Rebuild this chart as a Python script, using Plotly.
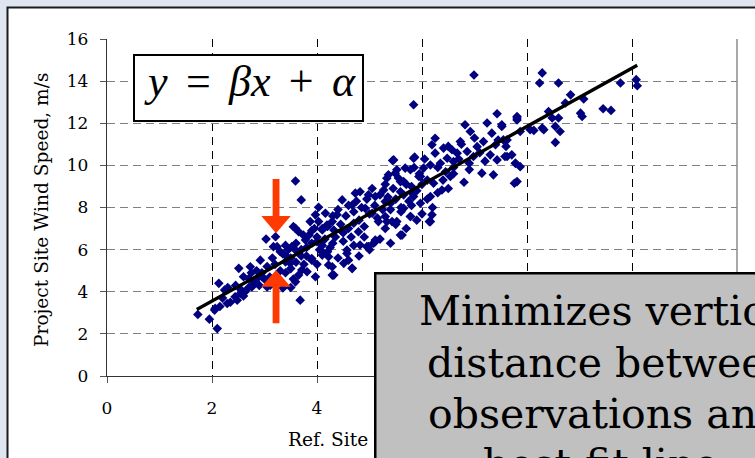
import plotly.graph_objects as go

# ---------------- data ----------------
obs_x = [
    1.73, 1.95, 2.10, 2.13, 2.24, 2.05, 2.29, 2.44, 2.51, 2.73, 2.92, 3.03, 3.21, 3.17, 2.60, 2.76,
    2.86, 2.63, 3.05, 3.68, 3.40, 3.52, 3.59, 3.65, 3.81, 3.90, 4.10, 4.22, 4.29, 4.00, 4.03, 4.19,
    3.74, 3.59, 3.30, 3.11, 2.95, 2.06, 2.15, 3.35, 3.50,
    3.59, 3.70, 5.44, 5.86, 4.03, 4.16, 3.97, 4.29, 4.48, 4.73, 4.82, 4.98, 5.11, 5.27, 5.36, 5.49,
    5.59, 5.68, 4.92, 5.05, 5.30, 5.43, 5.62, 5.78, 5.11, 4.98, 4.82, 4.57, 4.67, 4.51, 4.29, 4.22,
    4.10, 3.90, 3.78, 3.65, 3.59, 3.49, 3.71, 4.32, 4.48, 4.38, 4.70, 4.79, 5.17, 5.30, 4.67, 3.87,
    4.10, 5.65, 5.81, 5.94,
    5.84, 7.43, 7.81, 6.82, 6.92, 7.24, 7.33, 7.52, 6.73, 6.25, 6.19, 6.41, 6.57, 6.67, 6.86, 7.05,
    7.17, 7.40, 7.62, 6.25, 6.48, 6.60, 6.98, 7.30, 7.43, 7.62, 7.78, 7.14, 7.36, 7.81, 5.84, 5.46,
    6.03, 6.16, 6.54, 6.38, 6.16, 6.22, 5.97, 5.78, 5.65, 5.52, 5.33, 5.59, 5.84, 5.78, 6.19, 6.16,
    5.40, 5.33, 5.52, 5.97,
    8.29, 8.24, 8.60, 9.78, 10.08, 10.10, 8.83, 8.73, 9.08, 8.41, 8.48, 8.60, 9.02, 9.05, 9.45, 9.60,
    7.81, 7.81, 7.52, 8.06, 8.13, 8.29, 8.32, 8.54, 8.63, 8.54, 7.87, 7.55, 7.58, 7.71, 7.78, 7.87,
    7.76, 6.99,
    2.48, 2.54, 2.70, 2.79, 3.24, 3.43, 3.55, 3.97, 4.32, 4.67, 4.57, 4.95, 5.11, 5.08, 5.59, 6.14,
    3.30, 3.40, 3.50, 3.60, 3.70, 3.80, 3.85, 3.90, 3.95, 4.00, 4.05, 4.10, 4.15, 4.20, 4.25, 4.30,
    4.35, 4.40, 4.45, 4.50, 4.55, 4.60, 4.60, 4.65, 4.70, 4.75, 4.80, 4.85, 4.90, 4.95, 5.00, 5.05,
    5.10, 5.15, 5.20, 5.25, 5.30, 5.35, 5.40, 5.45, 5.50, 5.55, 5.60, 5.65, 5.70, 5.75, 5.80, 5.85,
    5.90, 5.95, 6.00, 6.05, 6.10, 6.30, 6.35, 6.45, 6.50, 6.60, 6.70, 6.75, 6.90, 7.00, 7.10, 7.20,
    7.45, 7.60,
    2.20, 2.30, 2.35, 2.45, 2.55, 2.60, 2.70, 2.75, 2.80, 2.85, 2.90, 2.95, 3.00, 3.05, 3.10, 3.15,
    3.20, 3.25, 3.30, 3.35, 3.40, 3.45, 3.50, 3.55, 3.60, 3.70, 3.75, 3.80, 3.90, 4.00, 4.10, 4.20,
    4.30, 4.40, 4.50, 4.60, 4.70, 4.80, 4.90, 5.00, 5.20, 5.30, 5.40, 5.50, 5.60, 5.70, 5.80, 5.90,
    6.00, 6.10, 6.20, 6.30, 6.40, 6.50, 6.60, 6.80, 6.90,
]
obs_y = [
    2.92, 2.70, 2.25, 4.40, 4.08, 3.13, 3.44, 3.76, 5.11, 5.19, 5.50, 6.50, 6.61, 6.14, 4.71, 4.23,
    4.63, 4.00, 4.23, 3.60, 5.42, 6.14, 7.01, 4.79, 4.95, 5.58, 5.74, 5.27, 4.79, 6.38, 7.33, 7.17,
    6.69, 4.47, 4.47, 4.31, 4.71, 3.21, 3.30, 4.18, 4.20,
    9.26, 8.36, 10.23, 10.39, 8.01, 7.73, 7.65, 7.33, 8.36, 8.68, 8.75, 8.60, 8.52, 8.83, 9.55, 9.63,
    9.23, 9.87, 7.96, 7.73, 7.57, 7.33, 6.69, 7.57, 6.46, 6.14, 6.22, 5.98, 5.11, 5.35, 5.19, 5.66,
    5.90, 5.50, 6.46, 6.85, 5.98, 5.35, 5.03, 6.93, 6.85, 7.65, 7.25, 6.85, 7.33, 8.28, 8.12, 7.33,
    6.93, 7.96, 8.68, 9.47,
    12.88, 12.45, 12.25, 11.93, 11.61, 12.01, 11.53, 11.85, 11.13, 11.29, 10.98, 10.82, 10.74, 10.58, 10.66, 10.89,
    11.13, 10.98, 11.21, 10.58, 10.34, 10.18, 10.42, 10.50, 10.26, 10.42, 10.10, 9.63, 9.55, 9.23, 10.34, 10.26,
    9.87, 10.02, 9.47, 8.83, 8.52, 9.15, 9.47, 9.79, 9.23, 9.79, 9.39, 8.75, 8.52, 7.57, 7.65, 7.33,
    8.20, 7.33, 7.33, 8.20,
    14.39, 13.91, 13.91, 13.91, 14.07, 13.78, 13.35, 12.96, 13.15, 12.56, 12.25, 12.25, 12.48, 12.32, 12.69, 12.61,
    12.32, 12.16, 11.93, 11.69, 11.66, 11.77, 11.69, 11.85, 11.61, 11.09, 11.61, 11.21, 10.42, 10.50, 10.10, 9.94,
    9.15, 14.29,
    3.60, 3.92, 4.63, 4.40, 6.14, 5.66, 7.09, 4.71, 4.79, 5.11, 5.82, 6.14, 6.38, 6.31, 6.69, 7.33,
    5.90, 6.20, 5.60, 6.30, 5.70, 6.10, 6.70, 6.30, 7.00, 6.60, 6.00, 7.00, 6.50, 7.10, 6.10, 7.60,
    6.60, 7.90, 7.20, 6.40, 7.60, 8.10, 7.00, 6.60, 7.80, 8.30, 7.40, 8.00, 7.10, 8.40, 7.70, 8.90,
    8.10, 7.50, 8.60, 7.90, 9.10, 8.50, 7.90, 8.90, 8.40, 9.40, 8.00, 8.60, 9.10, 8.30, 9.00, 9.90,
    8.80, 9.60, 9.10, 10.30, 9.30, 9.90, 10.10, 9.70, 10.90, 9.90, 10.30, 11.00, 10.10, 11.30, 10.60, 10.20,
    11.20, 10.90,
    3.70, 4.20, 3.50, 4.30, 4.10, 3.80, 4.20, 4.90, 4.50, 5.00, 4.30, 4.90, 4.60, 5.20, 4.70, 5.60,
    5.30, 4.50, 5.00, 5.80, 4.90, 6.00, 5.10, 4.60, 5.40, 6.00, 5.30, 5.70, 6.90, 5.30, 6.20, 5.90,
    6.30, 5.60, 6.80, 5.50, 6.20, 5.70, 6.60, 6.00, 6.50, 7.00, 6.30, 7.20, 7.80, 7.00, 8.10, 7.40,
    7.70, 8.40, 8.00, 8.70, 9.30, 8.90, 9.60, 9.20, 9.80,
]

# best-fit line end points
fit_x = [1.71, 10.10]
fit_y = [3.16, 14.75]

x_ticks = [0, 2, 4, 6, 8, 10]
x_tick_labels = ["0", "2", "4", "", "", ""]   # 6..10 lie under the grey call-out box
y_ticks = [0, 2, 4, 6, 8, 10, 12, 14, 16]

GAP = "&nbsp;&#8202;&#8202;"
equation_text = f"<i>y</i>{GAP}={GAP}<i>β</i><i>x</i>{GAP}+{GAP}<i>α</i>"
box_lines = ["Minimizes vertical", "distance between", "observations and", "best-fit line"]
x_title = "Ref. Site Wind Speed, m/s"
y_title = "Project Site Wind Speed, m/s"

# arrow geometry (data units)
arrow_x = 3.22
down_arrow = dict(top=9.35, base=7.60, tip=6.78)
up_arrow = dict(bottom=2.50, base=4.24, tip=5.03)
shaft_hw = 0.065
head_hw = 0.28

# ---------------- layout geometry ----------------
W, H = 755, 458
ML, MR, MT, MB = 107, 18, 39, 82
PW, PH = W - ML - MR, H - MT - MB


def px_x(p):
    return (p - ML) / PW


def px_y(p):
    return (H - MB - p) / PH


SERIF = "DejaVu Serif"
ARROW_COLOR = "#ff3a00"

fig = go.Figure()
fig.add_trace(go.Scatter(
    x=obs_x, y=obs_y, mode="markers",
    marker=dict(symbol="diamond", size=7.4, color="#000080", line=dict(width=0)),
    showlegend=False, hoverinfo="skip",
))
fig.add_trace(go.Scatter(
    x=fit_x, y=fit_y, mode="lines",
    line=dict(color="black", width=3.4),
    showlegend=False, hoverinfo="skip",
))


def down_path(a):
    x = arrow_x
    return (f"M {x-shaft_hw},{a['top']} L {x+shaft_hw},{a['top']} L {x+shaft_hw},{a['base']} "
            f"L {x+head_hw},{a['base']} L {x},{a['tip']} L {x-head_hw},{a['base']} "
            f"L {x-shaft_hw},{a['base']} Z")


def up_path(a):
    x = arrow_x
    return (f"M {x-shaft_hw},{a['bottom']} L {x+shaft_hw},{a['bottom']} L {x+shaft_hw},{a['base']} "
            f"L {x+head_hw},{a['base']} L {x},{a['tip']} L {x-head_hw},{a['base']} "
            f"L {x-shaft_hw},{a['base']} Z")


shapes = [
    # white card on slide background
    dict(type="rect", xref="paper", yref="paper", layer="below",
         x0=px_x(7.5), x1=px_x(800), y0=px_y(520), y1=px_y(7.5),
         fillcolor="white", line=dict(color="#1a1a1a", width=2)),
    # right border of plot area
    dict(type="line", xref="paper", yref="paper", x0=1, x1=1, y0=0, y1=1,
         line=dict(color="#8c8c8c", width=1.5)),
    # equation box
    dict(type="rect", xref="paper", yref="paper", layer="above",
         x0=px_x(134), x1=px_x(363), y0=px_y(121), y1=px_y(55),
         fillcolor="white", line=dict(color="black", width=2)),
    dict(type="path", xref="x", yref="y", path=down_path(down_arrow),
         fillcolor=ARROW_COLOR, line=dict(width=0)),
    dict(type="path", xref="x", yref="y", path=up_path(up_arrow),
         fillcolor=ARROW_COLOR, line=dict(width=0)),
]

annotations = [
    dict(xref="paper", yref="paper", x=px_x(249.5), y=px_y(82), xanchor="center", yanchor="middle",
         text=equation_text, showarrow=False,
         font=dict(family="Liberation Serif", size=44, color="black")),
    dict(xref="paper", yref="paper", x=px_x(41), y=px_y(210), xanchor="center", yanchor="middle",
         text=y_title, textangle=-90, showarrow=False,
         font=dict(family=SERIF, size=18.6, color="black")),
    dict(xref="paper", yref="paper", x=px_x(286), y=px_y(440), xanchor="left", yanchor="middle",
         text=x_title, showarrow=False,
         font=dict(family=SERIF, size=18.6, color="black")),
    # grey call-out box
    dict(xref="paper", yref="paper", x=px_x(374), y=px_y(271.5), xanchor="left", yanchor="top",
         text="&nbsp;", showarrow=False, bgcolor="#c0c0c0", bordercolor="black",
         borderwidth=2.5, borderpad=0, width=460, height=260,
         font=dict(family=SERIF, size=10)),
]

BOX_FONT = 41
line_starts = [417, 425, 426, 481]
line_tops = [284.5, 337, 387.5, 438]
for txt, xs, yt in zip(box_lines, line_starts, line_tops):
    annotations.append(dict(
        xref="paper", yref="paper", x=px_x(xs), y=px_y(yt), xanchor="left", yanchor="top",
        text=txt, showarrow=False, align="left",
        font=dict(family=SERIF, size=BOX_FONT, color="black")))

axis_common = dict(
    showline=True, linecolor="#333333", linewidth=1.3,
    ticks="outside", ticklen=6, tickcolor="#555555", tickwidth=1,
    tickfont=dict(family=SERIF, size=17, color="black"),
    zeroline=False, showgrid=True, gridwidth=1,
)

fig.update_layout(
    width=W, height=H,
    margin=dict(l=ML, r=MR, t=MT, b=MB),
    paper_bgcolor="#dde6f1", plot_bgcolor="white",
    shapes=shapes, annotations=annotations,
    xaxis=dict(range=[0, 12], tickvals=x_ticks, ticktext=x_tick_labels,
               gridcolor="#000000", griddash="8px,6px",
               ticklabelstandoff=10, **axis_common),
    yaxis=dict(range=[0, 16], tickvals=y_ticks, gridcolor="#808080", griddash="8px,5px",
               ticklabelstandoff=8, **axis_common),
)

fig.write_html("out.html")
